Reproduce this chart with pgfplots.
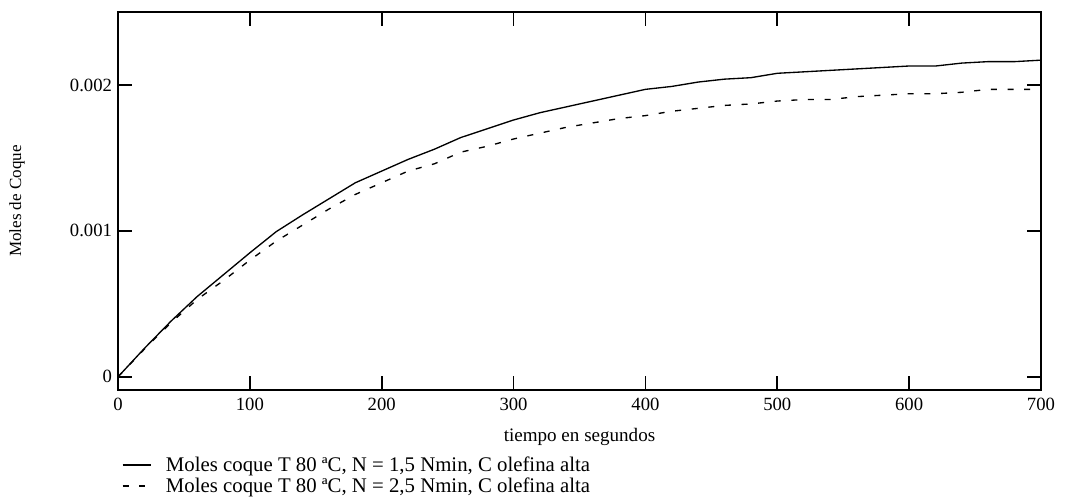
\documentclass[border=0pt]{standalone}
\usepackage{fontspec}
\setmainfont{Liberation Serif}
\usepackage{pgfplots}
\pgfplotsset{compat=1.18}
\begin{document}
\begin{tikzpicture}
\begin{axis}[
  scale only axis,
  width=692.25pt, height=283.5pt,
  xmin=0, xmax=700, ymin=-0.00009, ymax=0.0025,
  xtick={0,100,200,300,400,500,600,700},
  ytick={0,0.001,0.002},
  yticklabels={0,0.001,0.002},
  scaled y ticks=false,
  xtick pos=both, ytick pos=both,
  xticklabel pos=lower, yticklabel pos=left,
  tick align=inside,
  major tick length=10.5pt,
  axis line style={line width=1.3pt},
  every tick/.style={line width=1.3pt, black},
  /pgf/number format/assume math mode=true,
  tick label style={font=\fontsize{14}{16}\selectfont},
  xticklabel style={yshift=-2.5pt},
  yticklabel style={xshift=-1pt},
  xlabel={tiempo en segundos},
  xlabel style={at={(axis description cs:0.5,-0.124)}, anchor=center, font=\fontsize{14.3}{16}\selectfont},
  ylabel={Moles de Coque},
  ylabel style={at={(axis description cs:-0.1094,0.5)}, anchor=center, font=\fontsize{12.8}{14}\selectfont},
  legend style={at={(axis description cs:0.004,-0.17)}, anchor=north west, draw=none, fill=none,
    font=\fontsize{15.6}{16.5}\selectfont, inner sep=0pt, row sep=0pt,
    legend cell align=left,
    nodes={inner xsep=0pt, inner ysep=1.6pt}},
  legend image code/.code={\draw[#1] (0pt,0pt) -- (21pt,0pt);},
]
\addplot[black, line width=1pt] coordinates {
(0,0) (20,0.000195) (40,0.00038) (60,0.00055) (80,0.0007) (100,0.00085)
(120,0.000995) (140,0.00111) (160,0.00122) (180,0.00133) (200,0.00141)
(220,0.00149) (240,0.00156) (260,0.00164) (280,0.0017) (300,0.00176)
(320,0.00181) (340,0.00185) (360,0.00189) (380,0.00193) (400,0.00197)
(420,0.00199) (440,0.00202) (460,0.00204) (480,0.00205) (500,0.00208)
(520,0.00209) (540,0.0021) (560,0.00211) (580,0.00212) (600,0.00213)
(620,0.00213) (640,0.00215) (660,0.00216) (680,0.00216) (700,0.00217)
};
\addlegendentry{\hspace{11pt}Moles coque T 80 ªC, N = 1,5 Nmin, C olefina alta}
\addplot[black, line width=1pt, dash pattern=on 4.5pt off 8pt] coordinates {
(0,0) (20,0.00019) (40,0.00037) (60,0.00053) (80,0.00066) (100,0.0008)
(120,0.00093) (140,0.00104) (160,0.00115) (180,0.00125) (200,0.00133)
(220,0.00141) (240,0.00146) (260,0.00154) (280,0.00158) (300,0.00163)
(320,0.00167) (340,0.00171) (360,0.00174) (380,0.00177) (400,0.00179)
(420,0.00182) (440,0.00184) (460,0.00186) (480,0.00187) (500,0.00189)
(520,0.0019) (540,0.0019) (560,0.00192) (580,0.00193) (600,0.00194)
(620,0.00194) (640,0.00195) (660,0.00197) (680,0.00197) (700,0.00197)
};
\addlegendentry{\hspace{11pt}Moles coque T 80 ªC, N = 2,5 Nmin, C olefina alta}
\end{axis}
\pgfresetboundingbox
\path (-88.5pt,-83.25pt) rectangle (710.25pt,292.5pt);
\end{tikzpicture}
\end{document}
